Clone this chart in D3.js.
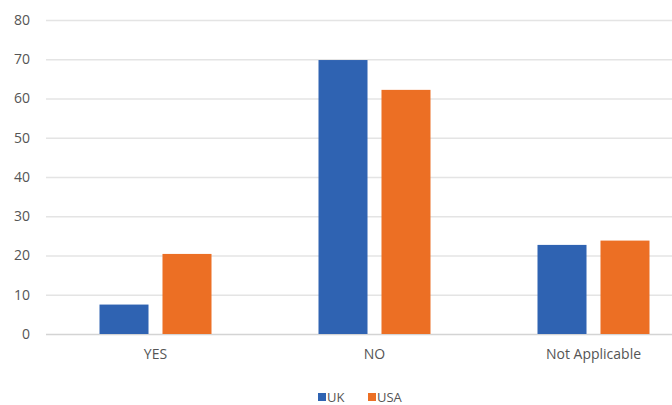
<!DOCTYPE html>
<html>
<head>
<meta charset="utf-8">
<script src="https://cdn.jsdelivr.net/npm/d3@7"></script>
<style>
  html, body { margin: 0; padding: 0; background: #fff; }
  svg { display: block; }
  text { font-family: "Open Sans", "Noto Sans", sans-serif; fill: #555; }
</style>
</head>
<body>
<svg id="chart" width="672" height="405"></svg>
<script>
// Survey responses by country
const categories = ["YES", "NO", "Not Applicable"];
const seriesNames = ["UK", "USA"];
const ukValues = [7.5, 69.8, 22.7];
const usaValues = [20.4, 62.2, 23.8];
const yTicks = [0, 10, 20, 30, 40, 50, 60, 70, 80];
const seriesColors = ["#2F63B2", "#EC6F24"];

const svg = d3.select("#chart");
const plot = { left: 46, right: 703, top: 20, bottom: 334 };
const font = '"Open Sans", "Noto Sans", sans-serif';

const x = d3.scaleBand().domain(categories).range([plot.left, plot.right]);
const groupInset = 53.5;
const xSeries = d3.scaleBand().domain(seriesNames)
  .range([groupInset, x.bandwidth() - groupInset])
  .paddingInner(0.222).paddingOuter(0);
const y = d3.scaleLinear().domain([0, 80]).range([plot.bottom, plot.top]);

// horizontal gridlines
svg.append("g")
  .selectAll("line")
  .data(yTicks)
  .join("line")
  .attr("x1", plot.left)
  .attr("x2", plot.right)
  .attr("y1", d => y(d) + 0.5)
  .attr("y2", d => y(d) + 0.5)
  .attr("stroke", d => d === 0 ? "#d4d4d4" : "#e4e4e4")
  .attr("stroke-width", 1.5);

// y axis labels
const yAxis = d3.axisLeft(y).tickValues(yTicks).tickSize(0).tickPadding(0);
const gy = svg.append("g").attr("transform", `translate(${plot.left - 16},0)`).call(yAxis);
gy.select(".domain").remove();
gy.selectAll("text").attr("font-size", 14).attr("fill", "#555")
  .style("font-family", font);

// bars
const rows = categories.map((c, i) => ({ category: c, values: [ukValues[i], usaValues[i]] }));
const groups = svg.append("g").selectAll("g")
  .data(rows)
  .join("g")
  .attr("transform", d => `translate(${x(d.category)},0)`);

groups.selectAll("rect")
  .data(d => d.values.map((v, j) => ({ name: seriesNames[j], value: v, color: seriesColors[j] })))
  .join("rect")
  .attr("x", d => xSeries(d.name))
  .attr("width", xSeries.bandwidth())
  .attr("y", d => y(d.value))
  .attr("height", d => y(0) - y(d.value))
  .attr("fill", d => d.color);

// x axis labels
const xAxis = d3.axisBottom(x).tickSize(0).tickPadding(0);
const gx = svg.append("g").attr("transform", `translate(0,${plot.bottom + 15})`).call(xAxis);
gx.select(".domain").remove();
gx.selectAll("text").attr("font-size", 14).attr("fill", "#555")
  .style("font-family", font);

// legend
const legend = svg.append("g").attr("transform", "translate(318,397)");
const legendX = [0, 50];
seriesNames.forEach((name, i) => {
  const g = legend.append("g").attr("transform", `translate(${legendX[i]},0)`);
  g.append("rect").attr("x", 0).attr("y", -4).attr("width", 8).attr("height", 8).attr("fill", seriesColors[i]);
  g.append("text").attr("x", 9).attr("y", 0).attr("dy", "0.35em")
    .attr("font-size", 13).text(name);
});
</script>
</body>
</html>
